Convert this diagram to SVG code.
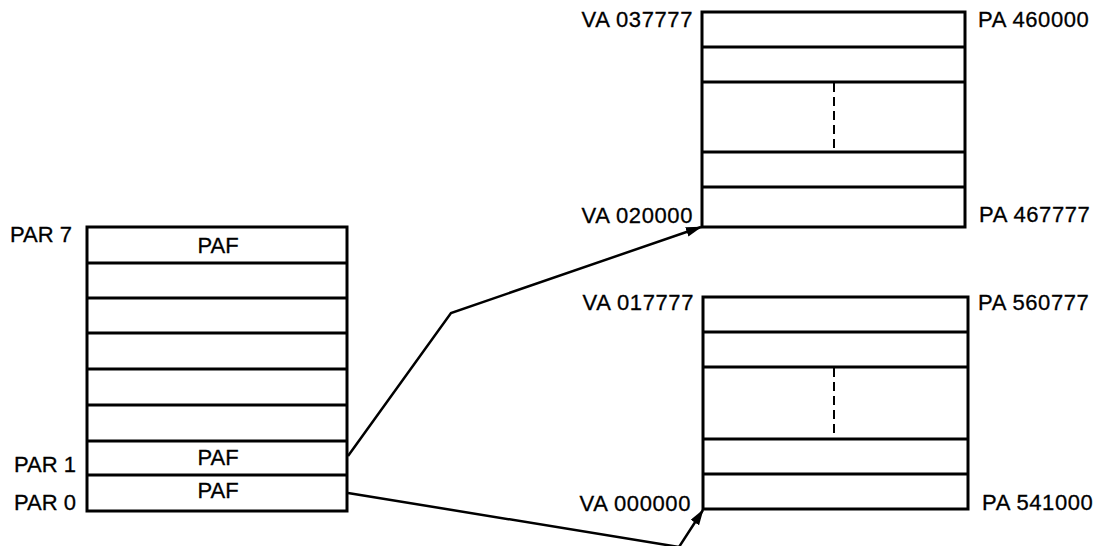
<svg xmlns="http://www.w3.org/2000/svg" width="1099" height="546" viewBox="0 0 1099 546">
<style>
  .box { fill: #fff; stroke: #000; stroke-width: 3; }
  .row { stroke: #000; stroke-width: 3; fill: none; }
  .dash { stroke: #000; stroke-width: 2; stroke-dasharray: 9 5; fill: none; }
  .lbl { font-family: "Liberation Sans", Arial, sans-serif; font-size: 22px; fill: #000; stroke: #000; stroke-width: 0.3; }
  .addr { letter-spacing: 0.6px; }
  .paf { text-anchor: middle; font-size: 22px; }
  .con { stroke: #000; stroke-width: 2.5; fill: none; }
</style>
<defs>
  <marker id="arrow" markerWidth="16" markerHeight="10" refX="15" refY="5" orient="auto" markerUnits="userSpaceOnUse">
    <path d="M0,0 L16,5 L0,10 Z" fill="#000"/>
  </marker>
</defs>
<rect width="1099" height="546" fill="#fff"/>

<g id="par-table">
  <rect class="box" x="87" y="227" width="260" height="284"/>
  <line class="row" x1="87" y1="263" x2="347" y2="263"/>
  <line class="row" x1="87" y1="298" x2="347" y2="298"/>
  <line class="row" x1="87" y1="333" x2="347" y2="333"/>
  <line class="row" x1="87" y1="369" x2="347" y2="369"/>
  <line class="row" x1="87" y1="405" x2="347" y2="405"/>
  <line class="row" x1="87" y1="441" x2="347" y2="441"/>
  <line class="row" x1="87" y1="475" x2="347" y2="475"/>
  <text class="lbl paf" x="218" y="253">PAF</text>
  <text class="lbl paf" x="218" y="465">PAF</text>
  <text class="lbl paf" x="218" y="498">PAF</text>
  <text class="lbl" x="10" y="242">PAR 7</text>
  <text class="lbl" x="14" y="472">PAR 1</text>
  <text class="lbl" x="14" y="510">PAR 0</text>
</g>

<g id="page-top">
  <rect class="box" x="702" y="12" width="263" height="215"/>
  <line class="row" x1="702" y1="47" x2="965" y2="47"/>
  <line class="row" x1="702" y1="82" x2="965" y2="82"/>
  <line class="row" x1="702" y1="152" x2="965" y2="152"/>
  <line class="row" x1="702" y1="187" x2="965" y2="187"/>
  <line class="dash" x1="834" y1="83" x2="834" y2="151"/>
  <text class="lbl addr" x="693" y="27" text-anchor="end">VA 037777</text>
  <text class="lbl addr" x="693" y="223" text-anchor="end">VA 020000</text>
  <text class="lbl addr" x="978" y="27">PA 460000</text>
  <text class="lbl addr" x="979" y="222">PA 467777</text>
</g>

<g id="page-bottom">
  <rect class="box" x="703" y="297" width="265" height="212"/>
  <line class="row" x1="703" y1="332" x2="968" y2="332"/>
  <line class="row" x1="703" y1="367" x2="968" y2="367"/>
  <line class="row" x1="703" y1="439" x2="968" y2="439"/>
  <line class="row" x1="703" y1="474" x2="968" y2="474"/>
  <line class="dash" x1="834" y1="368" x2="834" y2="438"/>
  <text class="lbl addr" x="694" y="310" text-anchor="end">VA 017777</text>
  <text class="lbl addr" x="691" y="511" text-anchor="end">VA 000000</text>
  <text class="lbl addr" x="978" y="310">PA 560777</text>
  <text class="lbl addr" x="982" y="510">PA 541000</text>
</g>

<g id="connectors">
  <polyline class="con" points="348,456 451,313 701,227" marker-end="url(#arrow)"/>
  <polyline class="con" points="348,493 679,547 703,510" marker-end="url(#arrow)"/>
</g>
</svg>
